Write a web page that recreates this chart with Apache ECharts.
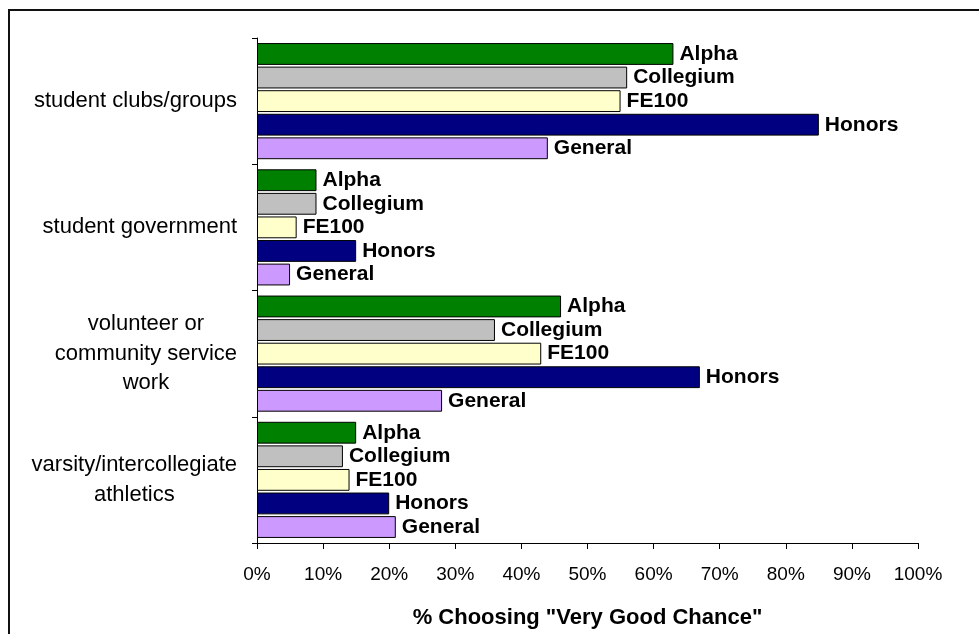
<!DOCTYPE html>
<html>
<head>
<meta charset="utf-8">
<script src="https://cdn.jsdelivr.net/npm/echarts@6/dist/echarts.min.js"></script>
<style>
html,body{margin:0;padding:0;background:#fff;overflow:hidden;}
#frame{position:absolute;left:8px;top:9px;width:1200px;height:900px;border-left:2px solid #111;border-top:2px solid #111;pointer-events:none;}
#chart{position:absolute;left:0;top:0;width:979px;height:634px;}
</style>
</head>
<body>
<div id="chart"></div>
<div id="frame"></div>
<script>
const categories = ['student clubs/groups', 'student government', 'volunteer or\ncommunity service\nwork', 'varsity/intercollegiate\nathletics'];
const seriesNames = ['Alpha', 'Collegium', 'FE100', 'Honors', 'General'];
const alpha = [63, 9, 46, 15];
const collegium = [56, 9, 36, 13];
const fe100 = [55, 6, 43, 14];
const honors = [85, 15, 67, 20];
const general = [44, 5, 28, 21];
const xTicks = [0, 10, 20, 30, 40, 50, 60, 70, 80, 90, 100];
const colors = ['#008000', '#C0C0C0', '#FFFFCC', '#000080', '#CC99FF'];
const values = [alpha, collegium, fe100, honors, general];

const chart = echarts.init(document.getElementById('chart'), null, {renderer: 'canvas'});
const font = '"Liberation Sans", Arial, sans-serif';
chart.setOption({
  animation: false,
  backgroundColor: '#fff',
  grid: {left: 257, right: 61, top: 38, bottom: 91, containLabel: false},
  xAxis: {
    type: 'value', min: xTicks[0], max: xTicks[xTicks.length - 1], interval: 10,
    splitLine: {show: false},
    axisLine: {show: true, lineStyle: {color: '#000', width: 1}},
    axisTick: {show: true, length: 6, lineStyle: {color: '#000'}},
    axisLabel: {formatter: '{value}%', color: '#000', fontFamily: font, fontSize: 19, margin: 22},
    name: '% Choosing "Very Good Chance"', nameLocation: 'middle', nameGap: 64,
    nameTextStyle: {color: '#000', fontFamily: font, fontSize: 22, fontWeight: 'bold'}
  },
  yAxis: {
    type: 'category', data: categories, inverse: true,
    axisLine: {show: true, lineStyle: {color: '#000', width: 1}},
    axisTick: {show: true, length: 5, alignWithLabel: false, lineStyle: {color: '#000'}},
    axisLabel: {
      margin: 20, color: '#000', fontFamily: font, fontSize: 22, lineHeight: 29.5,
      formatter: v => v.split('\n').map(l => '{c|' + l + '}').join('\n'),
      rich: {c: {align: 'center', fontFamily: font, fontSize: 22, lineHeight: 29.5, color: '#000'}}
    }
  },
  series: seriesNames.map((n, i) => ({
    name: n, type: 'bar', data: values[i],
    barCategoryGap: '8%', barGap: '8%',
    itemStyle: {color: colors[i], borderColor: '#000', borderWidth: 1},
    label: {show: true, position: 'right', distance: 6, formatter: '{a}', color: '#000',
      fontFamily: font, fontSize: 21, fontWeight: 'bold'}
  }))
});
</script>
</body>
</html>
